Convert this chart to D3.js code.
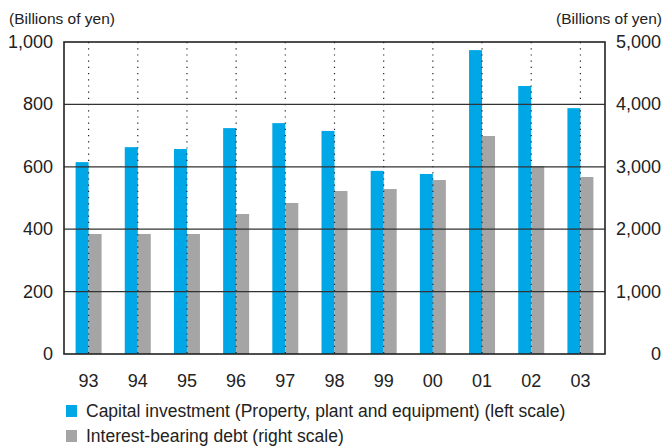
<html>
 <head>
  <script src="https://d3js.org/d3.v7.min.js"></script>
  <style>
   body{margin:0;background:#fff;}
   text{font-family:"Liberation Sans",Arial,sans-serif;fill:#222;}
  </style>
 </head>
 <body>
  <svg></svg>
  <script>
   var years = ["93","94","95","96","97","98","99","00","01","02","03"];
   var capex = [615,663,657,724,740,715,587,577,974,859,788];     // left scale
   var debt  = [1923,1923,1923,2244,2420,2612,2644,2788,3494,3013,2837]; // right scale
   var leftTicks  = [0,200,400,600,800,1000];
   var rightTicks = [0,1000,2000,3000,4000,5000];
   var seriesNames = ["Capital investment (Property, plant and equipment) (left scale)",
                      "Interest-bearing debt (right scale)"];
   var seriesColors = ["#00a7e7","#a5a5a5"];

   var W = 667, H = 446;
   var pLeft = 64, pRight = 605, pTop = 42, pBottom = 354;

   var svg = d3.select("svg").attr("width",W).attr("height",H);

   var x  = d3.scaleBand().domain(years).range([pLeft,pRight]).padding(0);
   var yL = d3.scaleLinear().domain([0,1000]).range([pBottom,pTop]);
   var yR = d3.scaleLinear().domain([0,5000]).range([pBottom,pTop]);
   var bw = 13;

   // bars
   svg.append("g").selectAll("rect").data(capex).enter().append("rect")
      .attr("x",function(d,i){return x(years[i])+x.bandwidth()/2-bw})
      .attr("y",function(d){return yL(d)})
      .attr("width",bw)
      .attr("height",function(d){return pBottom-yL(d)})
      .attr("fill",seriesColors[0]);

   svg.append("g").selectAll("rect").data(debt).enter().append("rect")
      .attr("x",function(d,i){return x(years[i])+x.bandwidth()/2})
      .attr("y",function(d){return yR(d)})
      .attr("width",bw)
      .attr("height",function(d){return pBottom-yR(d)})
      .attr("fill",seriesColors[1]);

   // dotted verticals
   svg.append("g").selectAll("line").data(years).enter().append("line")
      .attr("x1",function(d){return x(d)+x.bandwidth()/2})
      .attr("x2",function(d){return x(d)+x.bandwidth()/2})
      .attr("y1",pTop).attr("y2",pBottom)
      .attr("stroke","#222").attr("stroke-width",1.2)
      .attr("stroke-dasharray","1.2,5");

   // gridlines
   svg.append("g").selectAll("line").data(leftTicks.slice(1,5)).enter().append("line")
      .attr("x1",pLeft).attr("x2",pRight)
      .attr("y1",function(d){return yL(d)}).attr("y2",function(d){return yL(d)})
      .attr("stroke","#333").attr("stroke-width",1.3);

   // frame
   svg.append("rect").attr("x",pLeft).attr("y",pTop)
      .attr("width",pRight-pLeft).attr("height",pBottom-pTop)
      .attr("fill","none").attr("stroke","#222").attr("stroke-width",1.6);

   // axis labels
   svg.append("g").selectAll("text").data(leftTicks).enter().append("text")
      .attr("x",53).attr("y",function(d){return yL(d)+6})
      .attr("text-anchor","end").style("font-size","18px")
      .text(function(d){return d3.format(",")(d)});

   svg.append("g").selectAll("text").data(rightTicks).enter().append("text")
      .attr("x",661).attr("y",function(d){return yR(d)+6})
      .attr("text-anchor","end").style("font-size","18px")
      .text(function(d){return d3.format(",")(d)});

   svg.append("g").selectAll("text").data(years).enter().append("text")
      .attr("x",function(d){return x(d)+x.bandwidth()/2})
      .attr("y",387)
      .attr("text-anchor","middle").style("font-size","18px")
      .text(function(d){return d});

   svg.append("text").attr("x",9).attr("y",24).style("font-size","15.5px").text("(Billions of yen)");
   svg.append("text").attr("x",662).attr("y",24).attr("text-anchor","end").style("font-size","15.5px").text("(Billions of yen)");

   // legend
   var lg = svg.append("g").selectAll("g").data(seriesNames).enter().append("g")
      .attr("transform",function(d,i){return "translate(66,"+(405+i*25)+")"});
   lg.append("rect").attr("x",0).attr("y",0).attr("width",11).attr("height",12)
      .attr("fill",function(d,i){return seriesColors[i]});
   lg.append("text").attr("x",20).attr("y",12).style("font-size","17.5px").text(function(d){return d});
  </script>
 </body>
</html>
